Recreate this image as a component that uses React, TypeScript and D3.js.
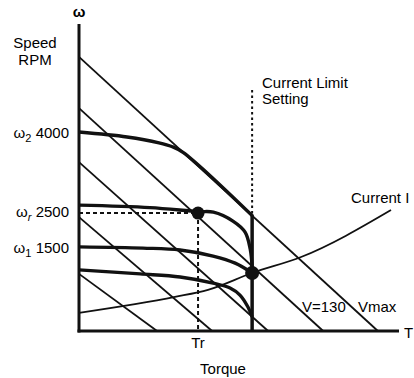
import * as d3 from "d3";
import React from "react";

const W = 414;
const H = 378;

// chart units: torque 0..100 (x), speed 0..100 (y)
const xScale = d3.scaleLinear().domain([0, 100]).range([79, 399]);
const yScale = d3.scaleLinear().domain([0, 100]).range([331, 24]);

// voltage lines: [no-load speed, stall torque]
const voltageLines = [
	[89.3, 93.4],
	[72.6, 76.3],
	[55.0, 59.1],
	[37.1, 41.6],
	[18.6, 24.4],
];

const currentLimit = 54.1;
const currentLimitTop = 78.5;
const currentLimitJoin = 37.6;

// speed-torque curves
const curveHigh = [[0, 64.8], [15, 63.2], [25, 61.3], [29, 60.1], [32.5, 58.2], [54.1, 37.6]];
const curveRated = [[0, 41.0], [22.2, 40.2], [37.2, 38.9], [42, 38.7], [48.1, 35.8], [51.9, 32.2], [53.5, 26.7], [54.1, 20.8]];
const curveLow = [[0, 27.4], [20, 27.0], [31.6, 26.4], [41.9, 24.4], [48.8, 22.1], [54.1, 18.9]];
const curveLowest = [[0, 19.9], [19.1, 18.6], [31.6, 17.6], [41.9, 15.6], [47.2, 14.0], [50.3, 11.7], [52.8, 7.8], [54.1, 4.6]];

const currentCurve = [[0, 5.9], [30, 11.1], [40.3, 13.4], [54.1, 18.9], [69.4, 24.1], [97.5, 39.4]];

const ratedPoint = [37.2, 38.4];
const limitPoint = [54.1, 18.9];

const speedTicks = [
	{ sub: "2", label: "4000", v: 64.6, italic: false },
	{ sub: "r", label: "2500", v: 38.8, italic: true },
	{ sub: "1", label: "1500", v: 27.0, italic: false },
];

const font = "'Liberation Sans', Arial, Helvetica, sans-serif";

const App = () => {
	const smooth = d3
		.line<number[]>()
		.x((d) => xScale(d[0]))
		.y((d) => yScale(d[1]))
		.curve(d3.curveCatmullRom.alpha(0.5));
	const mono = d3
		.line<number[]>()
		.x((d) => xScale(d[0]))
		.y((d) => yScale(d[1]))
		.curve(d3.curveMonotoneX);

	return (
		<svg
			width={W}
			height={H}
			style={{ position: "absolute", left: 0, top: 0, background: "white" }}
			fontFamily={font}
			fontSize={15}
		>
			{/* voltage lines */}
			{voltageLines.map((l, i) => (
				<line
					key={i}
					x1={xScale(0)}
					y1={yScale(l[0])}
					x2={xScale(l[1])}
					y2={yScale(0)}
					stroke="#111"
					strokeWidth={1.8}
				/>
			))}

			{/* current I */}
			<path d={mono(currentCurve) || ""} fill="none" stroke="#111" strokeWidth={1.8} />

			{/* current limit */}
			<line
				x1={xScale(currentLimit)}
				x2={xScale(currentLimit)}
				y1={yScale(currentLimitTop)}
				y2={yScale(currentLimitJoin)}
				stroke="#111"
				strokeWidth={2}
				strokeDasharray="2.5,3"
			/>
			<line
				x1={xScale(currentLimit)}
				x2={xScale(currentLimit)}
				y1={yScale(currentLimitJoin) - 1}
				y2={yScale(0)}
				stroke="#111"
				strokeWidth={3.5}
			/>

			{/* rated point guides */}
			<line
				x1={xScale(0)}
				x2={xScale(ratedPoint[0])}
				y1={yScale(ratedPoint[1])}
				y2={yScale(ratedPoint[1])}
				stroke="#111"
				strokeWidth={2}
				strokeDasharray="4,3"
			/>
			<line
				x1={xScale(ratedPoint[0])}
				x2={xScale(ratedPoint[0])}
				y1={yScale(ratedPoint[1])}
				y2={yScale(0)}
				stroke="#111"
				strokeWidth={2}
				strokeDasharray="4,3"
			/>

			{/* speed-torque curves */}
			{[curveHigh, curveRated, curveLow, curveLowest].map((c, i) => (
				<path key={i} d={smooth(c) || ""} fill="none" stroke="#111" strokeWidth={3.4} />
			))}

			<circle cx={xScale(ratedPoint[0])} cy={yScale(ratedPoint[1])} r={6.5} fill="#111" />
			<circle cx={xScale(limitPoint[0])} cy={yScale(limitPoint[1])} r={7} fill="#111" />

			{/* axes */}
			<line x1={xScale(0)} x2={xScale(0)} y1={yScale(100)} y2={yScale(0) + 1.5} stroke="#111" strokeWidth={3} />
			<line x1={xScale(0) - 1.5} x2={xScale(100)} y1={yScale(0)} y2={yScale(0)} stroke="#111" strokeWidth={3} />

			{/* labels */}
			<text x={xScale(0)} y={17} textAnchor="middle" fontWeight="bold" fontSize={15}>ω</text>
			<text x={35} y={48} textAnchor="middle">Speed</text>
			<text x={35} y={65} textAnchor="middle">RPM</text>
			{speedTicks.map((t) => (
				<text key={t.label} x={69} y={yScale(t.v) + 5} textAnchor="end">
					ω
					<tspan fontSize={11} dy={4} fontStyle={t.italic ? "italic" : "normal"}>{t.sub}</tspan>
					<tspan dy={-4}> {t.label}</tspan>
				</text>
			))}
			<text x={404} y={338}>T</text>
			<text x={xScale(ratedPoint[0])} y={348} textAnchor="middle">Tr</text>
			<text x={223} y={374} textAnchor="middle">Torque</text>
			<text x={262} y={88}>Current Limit</text>
			<text x={262} y={104}>Setting</text>
			<text x={351} y={203}>Current I</text>
			<text x={302} y={312}>V=130</text>
			<text x={358} y={312}>Vmax</text>
		</svg>
	);
};

export default App;
